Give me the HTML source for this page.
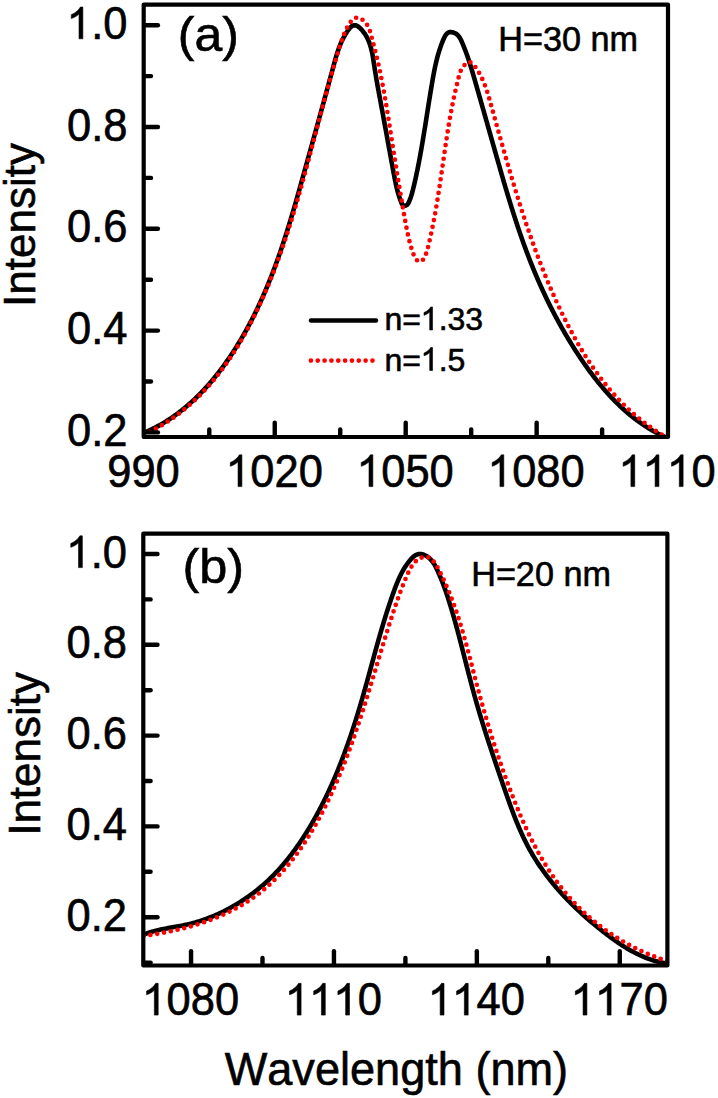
<!DOCTYPE html>
<html><head><meta charset="utf-8"><title>Intensity spectra</title>
<style>html,body{margin:0;padding:0;background:#fff;}body{width:718px;height:1098px;overflow:hidden;}svg{display:block;}</style>
</head><body>
<svg width="718" height="1098" viewBox="0 0 718 1098" font-family='"Liberation Sans", sans-serif' fill="#000">
<style>text,path.g1{stroke:#000;stroke-width:0.6px;}</style>
<defs>
<clipPath id="ca"><rect x="143.7" y="4.6" width="524.3" height="432.4"/></clipPath>
<clipPath id="cb"><rect x="143.3" y="533.7" width="524.0999999999999" height="431.79999999999995"/></clipPath>
</defs>
<rect width="718" height="1098" fill="#fff"/>
<g clip-path="url(#ca)">
<path d="M143.89,432.84 L145.29,432.24 L146.68,431.64 L148.06,431.02 L149.44,430.39 L150.80,429.74 L152.16,429.09 L153.51,428.42 L154.85,427.74 L156.18,427.04 L157.51,426.34 L158.83,425.62 L160.13,424.89 L161.44,424.15 L162.73,423.39 L164.01,422.63 L165.29,421.85 L166.56,421.06 L167.82,420.26 L169.07,419.45 L170.32,418.63 L171.55,417.80 L172.78,416.96 L174.00,416.10 L175.22,415.24 L176.43,414.37 L177.62,413.48 L178.81,412.59 L180.00,411.68 L181.17,410.77 L182.34,409.84 L183.50,408.91 L184.66,407.97 L185.80,407.01 L186.94,406.05 L188.07,405.08 L189.20,404.10 L190.31,403.11 L191.42,402.12 L192.52,401.11 L193.62,400.10 L194.71,399.07 L195.79,398.04 L196.86,397.00 L197.93,395.96 L198.99,394.90 L200.04,393.84 L201.08,392.77 L202.12,391.69 L203.15,390.60 L204.18,389.51 L205.19,388.41 L206.21,387.30 L207.21,386.19 L208.21,385.07 L209.20,383.94 L210.18,382.81 L211.16,381.67 L212.13,380.52 L213.09,379.37 L214.05,378.21 L215.00,377.04 L215.94,375.87 L216.88,374.69 L217.81,373.51 L218.74,372.33 L219.65,371.13 L220.57,369.93 L221.47,368.73 L222.37,367.52 L223.26,366.31 L224.15,365.09 L225.03,363.87 L225.91,362.64 L226.77,361.41 L227.64,360.18 L228.49,358.94 L229.34,357.69 L230.19,356.45 L231.02,355.19 L231.86,353.94 L232.68,352.68 L233.50,351.42 L234.32,350.16 L235.12,348.89 L235.93,347.62 L236.72,346.34 L237.51,345.07 L238.30,343.79 L239.08,342.50 L239.85,341.22 L240.62,339.93 L241.39,338.64 L242.14,337.34 L242.89,336.05 L243.64,334.75 L244.38,333.45 L245.12,332.14 L245.85,330.83 L246.57,329.53 L247.29,328.21 L248.01,326.90 L248.72,325.58 L249.42,324.26 L250.12,322.94 L250.82,321.61 L251.51,320.29 L252.19,318.96 L252.87,317.62 L253.55,316.29 L254.22,314.95 L254.88,313.61 L255.54,312.27 L256.20,310.93 L256.85,309.58 L257.49,308.23 L258.13,306.88 L258.77,305.53 L259.40,304.18 L260.03,302.82 L260.66,301.46 L261.27,300.10 L261.89,298.74 L262.50,297.37 L263.11,296.00 L263.71,294.64 L264.30,293.26 L264.90,291.89 L265.49,290.52 L266.07,289.14 L266.65,287.76 L267.23,286.38 L267.80,285.00 L268.37,283.62 L268.94,282.23 L269.50,280.84 L270.06,279.45 L270.61,278.06 L271.16,276.67 L271.71,275.28 L272.25,273.88 L272.79,272.48 L273.32,271.08 L273.85,269.68 L274.38,268.28 L274.91,266.88 L275.43,265.47 L275.94,264.07 L276.46,262.66 L276.97,261.25 L277.48,259.84 L277.98,258.43 L278.48,257.02 L278.98,255.60 L279.48,254.19 L279.97,252.77 L280.46,251.35 L280.94,249.93 L281.43,248.51 L281.91,247.09 L282.38,245.67 L282.86,244.24 L283.33,242.82 L283.80,241.39 L284.27,239.97 L284.73,238.54 L285.19,237.11 L285.65,235.68 L286.11,234.25 L286.56,232.82 L287.02,231.39 L287.47,229.96 L287.91,228.52 L288.36,227.09 L288.80,225.65 L289.24,224.22 L289.68,222.78 L290.12,221.35 L290.56,219.91 L290.99,218.47 L291.42,217.03 L291.85,215.59 L292.28,214.16 L292.71,212.72 L293.13,211.28 L293.56,209.84 L293.98,208.39 L294.40,206.95 L294.82,205.51 L295.24,204.07 L295.66,202.63 L296.07,201.19 L296.49,199.74 L296.90,198.30 L297.31,196.86 L297.72,195.42 L298.13,193.97 L298.54,192.53 L298.95,191.09 L299.36,189.65 L299.76,188.20 L300.17,186.76 L300.57,185.32 L300.98,183.88 L301.38,182.43 L301.78,180.99 L302.19,179.55 L302.59,178.11 L302.99,176.67 L303.39,175.23 L303.79,173.78 L304.19,172.34 L304.59,170.90 L305.00,169.46 L305.40,168.03 L305.80,166.59 L306.20,165.15 L306.60,163.71 L307.00,162.27 L307.40,160.84 L307.80,159.40 L308.19,157.96 L308.59,156.52 L308.99,155.09 L309.39,153.65 L309.79,152.21 L310.19,150.78 L310.59,149.34 L310.99,147.90 L311.39,146.46 L311.79,145.03 L312.19,143.59 L312.59,142.15 L312.99,140.71 L313.39,139.27 L313.79,137.83 L314.19,136.39 L314.59,134.95 L314.99,133.51 L315.39,132.07 L315.79,130.63 L316.19,129.19 L316.59,127.74 L316.99,126.30 L317.39,124.85 L317.79,123.41 L318.19,121.96 L318.59,120.51 L318.99,119.06 L319.39,117.61 L319.79,116.16 L320.19,114.71 L320.59,113.26 L320.99,111.80 L321.39,110.34 L321.79,108.89 L322.19,107.43 L322.60,105.97 L323.00,104.51 L323.40,103.05 L323.80,101.59 L324.20,100.13 L324.60,98.66 L325.00,97.20 L325.40,95.74 L325.80,94.28 L326.20,92.82 L326.60,91.36 L327.00,89.90 L327.40,88.44 L327.80,86.98 L328.20,85.53 L328.59,84.07 L328.99,82.62 L329.38,81.17 L329.78,79.72 L330.17,78.27 L330.57,76.83 L330.96,75.39 L331.35,73.95 L331.74,72.51 L332.13,71.08 L332.52,69.65 L332.90,68.22 L333.29,66.80 L333.67,65.38 L334.06,63.96 L334.44,62.55 L334.83,61.14 L335.22,59.74 L335.62,58.33 L336.02,56.93 L336.44,55.53 L336.87,54.14 L337.31,52.74 L337.77,51.35 L338.25,49.96 L338.75,48.57 L339.26,47.18 L339.81,45.79 L340.38,44.40 L340.97,43.01 L341.60,41.62 L342.26,40.23 L342.95,38.84 L343.68,37.45 L344.44,36.06 L345.24,34.66 L346.09,33.26 L346.98,31.87 L347.91,30.48 L348.88,29.16 L349.90,27.95 L350.95,26.90 L352.04,26.06 L353.17,25.46 L354.33,25.18 L355.53,25.24 L356.75,25.66 L357.97,26.38 L359.18,27.32 L360.36,28.42 L361.48,29.60 L362.53,30.82 L363.52,32.05 L364.44,33.31 L365.29,34.60 L366.09,35.90 L366.84,37.23 L367.53,38.57 L368.16,39.93 L368.75,41.31 L369.30,42.71 L369.81,44.12 L370.27,45.54 L370.70,46.98 L371.10,48.43 L371.47,49.89 L371.80,51.36 L372.12,52.83 L372.41,54.31 L372.69,55.80 L372.95,57.29 L373.19,58.79 L373.43,60.29 L373.65,61.79 L373.88,63.29 L374.10,64.79 L374.32,66.28 L374.55,67.77 L374.78,69.26 L375.02,70.75 L375.26,72.23 L375.50,73.71 L375.74,75.19 L375.99,76.67 L376.24,78.14 L376.49,79.62 L376.75,81.09 L377.01,82.56 L377.27,84.03 L377.53,85.49 L377.80,86.96 L378.06,88.42 L378.33,89.89 L378.60,91.35 L378.87,92.82 L379.14,94.28 L379.41,95.74 L379.69,97.21 L379.96,98.67 L380.24,100.14 L380.51,101.61 L380.79,103.07 L381.06,104.54 L381.34,106.01 L381.61,107.48 L381.89,108.96 L382.16,110.43 L382.43,111.91 L382.71,113.38 L382.98,114.86 L383.25,116.34 L383.53,117.82 L383.80,119.30 L384.07,120.78 L384.34,122.27 L384.62,123.75 L384.89,125.23 L385.16,126.72 L385.43,128.20 L385.70,129.69 L385.97,131.17 L386.24,132.66 L386.52,134.14 L386.79,135.62 L387.06,137.11 L387.33,138.59 L387.60,140.08 L387.87,141.56 L388.14,143.04 L388.41,144.53 L388.68,146.01 L388.95,147.49 L389.22,148.97 L389.49,150.45 L389.76,151.92 L390.03,153.40 L390.30,154.88 L390.57,156.35 L390.84,157.82 L391.11,159.30 L391.38,160.77 L391.65,162.23 L391.92,163.70 L392.20,165.16 L392.47,166.63 L392.74,168.09 L393.01,169.55 L393.28,171.00 L393.55,172.46 L393.82,173.91 L394.09,175.36 L394.37,176.81 L394.65,178.25 L394.93,179.70 L395.22,181.15 L395.53,182.60 L395.84,184.05 L396.16,185.50 L396.50,186.96 L396.85,188.42 L397.22,189.88 L397.61,191.35 L398.02,192.82 L398.45,194.30 L398.91,195.78 L399.39,197.28 L399.89,198.78 L400.43,200.29 L401.00,201.80 L401.62,203.23 L402.35,204.46 L403.21,205.36 L404.26,205.81 L405.51,205.69 L406.75,205.06 L407.77,204.03 L408.60,202.71 L409.28,201.23 L409.88,199.72 L410.43,198.22 L410.94,196.74 L411.41,195.27 L411.85,193.81 L412.26,192.36 L412.64,190.92 L413.01,189.48 L413.36,188.05 L413.71,186.61 L414.05,185.17 L414.39,183.73 L414.72,182.28 L415.05,180.84 L415.37,179.39 L415.69,177.94 L416.01,176.49 L416.32,175.03 L416.63,173.58 L416.93,172.12 L417.24,170.66 L417.54,169.20 L417.83,167.73 L418.12,166.27 L418.41,164.80 L418.70,163.33 L418.98,161.86 L419.26,160.39 L419.54,158.92 L419.82,157.44 L420.09,155.97 L420.36,154.49 L420.62,153.01 L420.89,151.53 L421.15,150.05 L421.41,148.57 L421.67,147.09 L421.93,145.60 L422.18,144.12 L422.44,142.64 L422.69,141.15 L422.94,139.66 L423.18,138.18 L423.43,136.69 L423.67,135.20 L423.92,133.72 L424.16,132.23 L424.40,130.74 L424.64,129.25 L424.88,127.76 L425.12,126.27 L425.36,124.78 L425.59,123.29 L425.83,121.81 L426.07,120.32 L426.30,118.83 L426.54,117.34 L426.77,115.85 L427.00,114.36 L427.24,112.88 L427.47,111.39 L427.71,109.90 L427.94,108.42 L428.18,106.93 L428.41,105.45 L428.64,103.97 L428.88,102.48 L429.12,101.00 L429.35,99.52 L429.59,98.04 L429.83,96.56 L430.07,95.09 L430.31,93.61 L430.55,92.13 L430.79,90.66 L431.04,89.19 L431.28,87.72 L431.53,86.25 L431.78,84.78 L432.03,83.31 L432.28,81.85 L432.53,80.39 L432.78,78.93 L433.04,77.47 L433.30,76.01 L433.57,74.55 L433.84,73.10 L434.12,71.64 L434.40,70.19 L434.70,68.73 L435.00,67.28 L435.30,65.83 L435.62,64.38 L435.95,62.93 L436.29,61.48 L436.65,60.03 L437.02,58.58 L437.40,57.13 L437.79,55.68 L438.20,54.23 L438.63,52.78 L439.07,51.32 L439.53,49.87 L440.01,48.42 L440.51,46.96 L441.03,45.51 L441.57,44.05 L442.13,42.59 L442.71,41.13 L443.32,39.67 L443.96,38.21 L444.64,36.81 L445.39,35.50 L446.22,34.34 L447.17,33.36 L448.24,32.62 L449.45,32.15 L450.84,32.01 L452.38,32.22 L453.95,32.70 L455.43,33.41 L456.73,34.28 L457.85,35.28 L458.83,36.40 L459.69,37.62 L460.45,38.92 L461.13,40.27 L461.75,41.65 L462.35,43.05 L462.93,44.44 L463.50,45.84 L464.06,47.23 L464.60,48.62 L465.14,50.01 L465.67,51.40 L466.19,52.80 L466.70,54.20 L467.19,55.60 L467.68,57.01 L468.17,58.42 L468.64,59.83 L469.11,61.25 L469.57,62.68 L470.02,64.10 L470.47,65.53 L470.91,66.97 L471.35,68.40 L471.78,69.84 L472.21,71.28 L472.64,72.72 L473.06,74.16 L473.48,75.60 L473.90,77.05 L474.32,78.49 L474.73,79.94 L475.15,81.38 L475.57,82.82 L475.98,84.27 L476.40,85.71 L476.81,87.15 L477.23,88.59 L477.64,90.04 L478.05,91.48 L478.47,92.92 L478.88,94.36 L479.29,95.81 L479.71,97.25 L480.12,98.69 L480.53,100.13 L480.94,101.57 L481.35,103.01 L481.76,104.45 L482.17,105.90 L482.59,107.34 L483.00,108.78 L483.41,110.22 L483.82,111.66 L484.23,113.10 L484.64,114.54 L485.04,115.98 L485.45,117.42 L485.86,118.86 L486.27,120.30 L486.68,121.74 L487.09,123.18 L487.50,124.62 L487.91,126.06 L488.32,127.51 L488.73,128.95 L489.13,130.39 L489.54,131.83 L489.95,133.27 L490.36,134.71 L490.77,136.15 L491.18,137.59 L491.59,139.03 L492.00,140.47 L492.40,141.91 L492.81,143.35 L493.22,144.79 L493.63,146.23 L494.04,147.67 L494.45,149.12 L494.86,150.56 L495.27,152.00 L495.68,153.44 L496.09,154.88 L496.50,156.32 L496.91,157.76 L497.32,159.21 L497.73,160.65 L498.15,162.09 L498.56,163.53 L498.97,164.97 L499.38,166.42 L499.80,167.86 L500.21,169.30 L500.63,170.74 L501.04,172.18 L501.46,173.62 L501.88,175.07 L502.29,176.51 L502.71,177.95 L503.13,179.39 L503.55,180.83 L503.97,182.27 L504.40,183.71 L504.82,185.15 L505.25,186.59 L505.67,188.03 L506.10,189.47 L506.53,190.91 L506.96,192.34 L507.39,193.78 L507.82,195.22 L508.25,196.66 L508.69,198.09 L509.13,199.53 L509.57,200.96 L510.01,202.40 L510.45,203.83 L510.89,205.27 L511.34,206.70 L511.78,208.13 L512.23,209.56 L512.68,210.99 L513.14,212.42 L513.59,213.85 L514.05,215.28 L514.51,216.71 L514.97,218.14 L515.43,219.56 L515.89,220.99 L516.36,222.42 L516.83,223.84 L517.30,225.26 L517.78,226.69 L518.25,228.11 L518.73,229.53 L519.22,230.95 L519.70,232.37 L520.19,233.78 L520.68,235.20 L521.17,236.62 L521.66,238.03 L522.16,239.44 L522.66,240.86 L523.16,242.27 L523.67,243.68 L524.18,245.09 L524.69,246.49 L525.21,247.90 L525.72,249.30 L526.25,250.71 L526.77,252.11 L527.30,253.51 L527.83,254.91 L528.36,256.31 L528.90,257.71 L529.44,259.11 L529.99,260.50 L530.53,261.89 L531.09,263.29 L531.64,264.68 L532.20,266.06 L532.76,267.45 L533.33,268.84 L533.90,270.22 L534.47,271.61 L535.05,272.99 L535.63,274.37 L536.21,275.74 L536.80,277.12 L537.39,278.50 L537.99,279.87 L538.59,281.24 L539.19,282.61 L539.80,283.98 L540.41,285.35 L541.02,286.71 L541.64,288.07 L542.26,289.44 L542.89,290.80 L543.52,292.15 L544.15,293.51 L544.79,294.86 L545.43,296.22 L546.07,297.57 L546.72,298.92 L547.37,300.26 L548.03,301.61 L548.69,302.95 L549.36,304.29 L550.02,305.63 L550.70,306.97 L551.37,308.31 L552.05,309.64 L552.74,310.97 L553.42,312.30 L554.12,313.63 L554.81,314.96 L555.51,316.28 L556.22,317.60 L556.93,318.92 L557.64,320.24 L558.35,321.56 L559.07,322.87 L559.80,324.18 L560.53,325.49 L561.26,326.80 L562.00,328.10 L562.74,329.40 L563.48,330.71 L564.23,332.00 L564.98,333.30 L565.74,334.59 L566.50,335.89 L567.27,337.18 L568.04,338.46 L568.81,339.75 L569.59,341.03 L570.37,342.31 L571.16,343.59 L571.95,344.87 L572.74,346.14 L573.54,347.41 L574.34,348.68 L575.15,349.95 L575.96,351.21 L576.78,352.47 L577.60,353.73 L578.42,354.99 L579.25,356.24 L580.09,357.49 L580.92,358.74 L581.77,359.99 L582.61,361.23 L583.47,362.47 L584.32,363.70 L585.18,364.94 L586.05,366.17 L586.92,367.39 L587.80,368.61 L588.68,369.83 L589.56,371.05 L590.46,372.25 L591.35,373.46 L592.25,374.66 L593.16,375.86 L594.07,377.05 L594.99,378.24 L595.92,379.42 L596.85,380.59 L597.78,381.77 L598.72,382.93 L599.67,384.09 L600.62,385.25 L601.58,386.40 L602.55,387.54 L603.52,388.68 L604.50,389.81 L605.48,390.94 L606.47,392.06 L607.47,393.17 L608.47,394.28 L609.48,395.38 L610.50,396.47 L611.52,397.56 L612.55,398.64 L613.58,399.71 L614.63,400.78 L615.68,401.84 L616.73,402.89 L617.80,403.93 L618.87,404.96 L619.95,405.99 L621.03,407.01 L622.13,408.02 L623.23,409.02 L624.34,410.02 L625.45,411.00 L626.57,411.98 L627.70,412.95 L628.84,413.91 L629.99,414.86 L631.14,415.80 L632.30,416.73 L633.47,417.65 L634.65,418.57 L635.84,419.47 L637.03,420.36 L638.24,421.25 L639.45,422.12 L640.67,422.99 L641.89,423.84 L643.13,424.68 L644.37,425.51 L645.63,426.34 L646.89,427.15 L648.16,427.95 L649.44,428.74 L650.73,429.52 L652.03,430.28 L653.34,431.04 L654.65,431.78 L655.98,432.52 L657.31,433.24 L658.65,433.95 L660.01,434.64 L661.37,435.33 L662.74,436.00 L664.12,436.66 L665.51,437.31 L666.92,437.94 L668.33,438.57 L669.75,439.18 L671.18,439.77" fill="none" stroke="#000" stroke-width="4.6" stroke-linejoin="round"/>
<path d="M143.49,434.76 L144.91,434.11 L146.33,433.45 L147.73,432.78 L149.12,432.10 L150.51,431.40 L151.88,430.70 L153.25,429.99 L154.61,429.27 L155.96,428.53 L157.30,427.79 L158.63,427.04 L159.95,426.28 L161.27,425.50 L162.57,424.72 L163.87,423.93 L165.16,423.13 L166.44,422.32 L167.71,421.50 L168.97,420.67 L170.23,419.83 L171.48,418.98 L172.71,418.13 L173.94,417.26 L175.17,416.39 L176.38,415.50 L177.58,414.61 L178.78,413.71 L179.97,412.80 L181.15,411.89 L182.32,410.96 L183.49,410.03 L184.65,409.08 L185.80,408.13 L186.94,407.17 L188.07,406.21 L189.20,405.23 L190.32,404.25 L191.43,403.26 L192.53,402.26 L193.63,401.25 L194.72,400.24 L195.80,399.22 L196.87,398.19 L197.94,397.16 L199.00,396.11 L200.05,395.06 L201.09,394.01 L202.13,392.94 L203.16,391.87 L204.18,390.79 L205.20,389.71 L206.21,388.61 L207.21,387.52 L208.20,386.41 L209.19,385.30 L210.17,384.18 L211.14,383.06 L212.11,381.93 L213.07,380.79 L214.03,379.65 L214.97,378.50 L215.91,377.35 L216.85,376.18 L217.77,375.02 L218.69,373.85 L219.61,372.67 L220.52,371.49 L221.42,370.30 L222.31,369.10 L223.20,367.90 L224.08,366.70 L224.96,365.49 L225.83,364.27 L226.70,363.05 L227.55,361.83 L228.41,360.60 L229.25,359.36 L230.09,358.12 L230.93,356.88 L231.75,355.63 L232.58,354.38 L233.39,353.12 L234.20,351.86 L235.01,350.59 L235.81,349.32 L236.60,348.05 L237.39,346.77 L238.17,345.49 L238.95,344.20 L239.72,342.91 L240.49,341.62 L241.25,340.32 L242.00,339.02 L242.75,337.71 L243.50,336.41 L244.24,335.10 L244.97,333.78 L245.70,332.46 L246.43,331.14 L247.15,329.82 L247.86,328.49 L248.57,327.16 L249.28,325.83 L249.97,324.50 L250.67,323.16 L251.36,321.82 L252.04,320.47 L252.73,319.13 L253.40,317.78 L254.07,316.43 L254.74,315.08 L255.40,313.73 L256.06,312.37 L256.71,311.01 L257.36,309.65 L258.01,308.29 L258.65,306.93 L259.28,305.56 L259.91,304.20 L260.54,302.83 L261.16,301.46 L261.78,300.09 L262.40,298.72 L263.01,297.34 L263.62,295.97 L264.22,294.59 L264.82,293.22 L265.41,291.84 L266.00,290.46 L266.59,289.08 L267.17,287.70 L267.75,286.31 L268.33,284.93 L268.90,283.54 L269.47,282.16 L270.04,280.77 L270.60,279.38 L271.16,277.99 L271.71,276.60 L272.26,275.21 L272.81,273.81 L273.35,272.42 L273.89,271.02 L274.43,269.62 L274.96,268.23 L275.50,266.83 L276.02,265.43 L276.55,264.03 L277.07,262.62 L277.59,261.22 L278.10,259.82 L278.61,258.41 L279.12,257.01 L279.63,255.60 L280.13,254.19 L280.63,252.78 L281.13,251.37 L281.62,249.96 L282.12,248.55 L282.61,247.13 L283.09,245.72 L283.57,244.31 L284.06,242.89 L284.53,241.47 L285.01,240.06 L285.48,238.64 L285.95,237.22 L286.42,235.80 L286.89,234.38 L287.35,232.96 L287.81,231.53 L288.27,230.11 L288.73,228.68 L289.18,227.26 L289.63,225.83 L290.08,224.41 L290.53,222.98 L290.97,221.55 L291.42,220.12 L291.86,218.69 L292.30,217.26 L292.73,215.83 L293.17,214.40 L293.60,212.97 L294.03,211.53 L294.46,210.10 L294.89,208.66 L295.32,207.23 L295.74,205.79 L296.17,204.36 L296.59,202.92 L297.01,201.48 L297.42,200.04 L297.84,198.60 L298.25,197.16 L298.67,195.72 L299.08,194.28 L299.49,192.84 L299.90,191.40 L300.31,189.96 L300.71,188.51 L301.12,187.07 L301.52,185.63 L301.93,184.18 L302.33,182.74 L302.73,181.29 L303.13,179.84 L303.53,178.40 L303.92,176.95 L304.32,175.50 L304.71,174.05 L305.11,172.61 L305.50,171.16 L305.90,169.71 L306.29,168.26 L306.68,166.81 L307.07,165.36 L307.46,163.91 L307.85,162.45 L308.24,161.00 L308.63,159.55 L309.01,158.10 L309.40,156.65 L309.79,155.19 L310.17,153.74 L310.56,152.29 L310.94,150.83 L311.33,149.38 L311.71,147.92 L312.10,146.47 L312.48,145.01 L312.87,143.56 L313.25,142.10 L313.63,140.65 L314.02,139.19 L314.40,137.73 L314.78,136.28 L315.17,134.82 L315.55,133.36 L315.94,131.91 L316.32,130.45 L316.70,128.99 L317.09,127.54 L317.47,126.08 L317.86,124.62 L318.24,123.17 L318.62,121.71 L319.01,120.26 L319.39,118.80 L319.78,117.34 L320.17,115.89 L320.55,114.43 L320.94,112.98 L321.32,111.53 L321.71,110.07 L322.10,108.62 L322.49,107.17 L322.88,105.72 L323.26,104.27 L323.65,102.82 L324.04,101.37 L324.43,99.92 L324.82,98.47 L325.22,97.02 L325.61,95.58 L326.00,94.13 L326.39,92.69 L326.79,91.25 L327.18,89.80 L327.58,88.36 L327.97,86.92 L328.37,85.49 L328.77,84.05 L329.17,82.61 L329.56,81.18 L329.96,79.74 L330.36,78.31 L330.77,76.88 L331.17,75.45 L331.57,74.03 L331.98,72.60 L332.38,71.17 L332.79,69.75 L333.20,68.33 L333.60,66.91 L334.01,65.49 L334.42,64.08 L334.83,62.66 L335.25,61.25 L335.66,59.84 L336.08,58.43 L336.49,57.02 L336.91,55.62 L337.33,54.22 L337.75,52.82 L338.17,51.42 L338.59,50.02 L339.02,48.62 L339.46,47.22 L339.90,45.82 L340.36,44.41 L340.83,42.99 L341.32,41.57 L341.83,40.13 L342.36,38.68 L342.91,37.21 L343.49,35.73 L344.11,34.23 L344.75,32.71 L345.43,31.17 L346.14,29.62 L346.89,28.07 L347.68,26.55 L348.50,25.09 L349.36,23.69 L350.25,22.39 L351.18,21.20 L352.15,20.14 L353.16,19.24 L354.20,18.51 L355.29,17.98 L356.41,17.67 L357.56,17.59 L358.76,17.77 L359.98,18.21 L361.21,18.86 L362.43,19.70 L363.62,20.71 L364.77,21.86 L365.85,23.12 L366.84,24.45 L367.73,25.84 L368.50,27.25 L369.13,28.65 L369.65,30.06 L370.09,31.46 L370.48,32.87 L370.86,34.28 L371.23,35.70 L371.61,37.12 L371.99,38.56 L372.38,40.00 L372.76,41.44 L373.14,42.89 L373.53,44.35 L373.91,45.81 L374.29,47.27 L374.67,48.73 L375.04,50.20 L375.41,51.66 L375.78,53.13 L376.14,54.60 L376.50,56.06 L376.85,57.53 L377.20,59.00 L377.54,60.46 L377.88,61.93 L378.21,63.40 L378.54,64.86 L378.87,66.33 L379.19,67.79 L379.51,69.26 L379.82,70.73 L380.13,72.19 L380.44,73.66 L380.74,75.12 L381.04,76.59 L381.33,78.05 L381.62,79.52 L381.91,80.99 L382.20,82.45 L382.48,83.92 L382.76,85.38 L383.03,86.85 L383.31,88.32 L383.58,89.79 L383.85,91.25 L384.11,92.72 L384.37,94.19 L384.63,95.66 L384.89,97.13 L385.15,98.59 L385.40,100.06 L385.65,101.53 L385.90,103.00 L386.15,104.47 L386.40,105.95 L386.64,107.42 L386.88,108.89 L387.13,110.36 L387.37,111.84 L387.60,113.31 L387.84,114.78 L388.08,116.26 L388.31,117.74 L388.55,119.21 L388.78,120.69 L389.01,122.17 L389.25,123.65 L389.48,125.12 L389.71,126.60 L389.94,128.09 L390.17,129.57 L390.40,131.05 L390.63,132.53 L390.86,134.02 L391.09,135.50 L391.32,136.99 L391.55,138.48 L391.78,139.96 L392.02,141.45 L392.25,142.94 L392.48,144.43 L392.71,145.92 L392.95,147.42 L393.18,148.91 L393.42,150.40 L393.65,151.90 L393.89,153.39 L394.12,154.89 L394.36,156.38 L394.60,157.88 L394.84,159.37 L395.08,160.87 L395.31,162.36 L395.55,163.86 L395.79,165.35 L396.03,166.85 L396.27,168.34 L396.52,169.83 L396.76,171.33 L397.00,172.82 L397.24,174.31 L397.49,175.80 L397.73,177.29 L397.97,178.78 L398.22,180.26 L398.47,181.75 L398.71,183.23 L398.96,184.72 L399.20,186.20 L399.45,187.68 L399.70,189.16 L399.95,190.64 L400.20,192.11 L400.45,193.58 L400.70,195.06 L400.95,196.52 L401.20,197.99 L401.45,199.46 L401.70,200.92 L401.95,202.38 L402.20,203.84 L402.46,205.29 L402.71,206.75 L402.96,208.20 L403.22,209.64 L403.47,211.09 L403.73,212.53 L403.98,213.97 L404.24,215.40 L404.50,216.83 L404.75,218.26 L405.01,219.69 L405.27,221.11 L405.53,222.53 L405.79,223.94 L406.05,225.36 L406.31,226.77 L406.58,228.19 L406.86,229.61 L407.15,231.04 L407.44,232.47 L407.75,233.92 L408.07,235.37 L408.40,236.84 L408.75,238.32 L409.11,239.81 L409.50,241.33 L409.90,242.86 L410.32,244.42 L410.77,246.00 L411.24,247.60 L411.74,249.23 L412.26,250.88 L412.82,252.52 L413.41,254.13 L414.05,255.66 L414.74,257.09 L415.48,258.38 L416.29,259.50 L417.17,260.41 L418.11,261.08 L419.14,261.48 L420.19,261.56 L421.22,261.26 L422.18,260.59 L423.08,259.63 L423.91,258.43 L424.68,257.04 L425.38,255.52 L426.01,253.94 L426.58,252.34 L427.07,250.79 L427.50,249.29 L427.88,247.83 L428.24,246.38 L428.59,244.95 L428.93,243.51 L429.26,242.06 L429.60,240.61 L429.93,239.16 L430.25,237.71 L430.58,236.26 L430.89,234.80 L431.21,233.34 L431.52,231.88 L431.83,230.42 L432.14,228.96 L432.44,227.49 L432.74,226.02 L433.03,224.56 L433.32,223.09 L433.60,221.62 L433.89,220.15 L434.17,218.68 L434.44,217.21 L434.71,215.74 L434.98,214.27 L435.25,212.79 L435.51,211.32 L435.77,209.85 L436.03,208.37 L436.28,206.90 L436.54,205.42 L436.78,203.94 L437.03,202.47 L437.28,200.99 L437.52,199.51 L437.76,198.03 L437.99,196.55 L438.23,195.07 L438.46,193.59 L438.69,192.11 L438.92,190.63 L439.15,189.15 L439.38,187.67 L439.61,186.18 L439.83,184.70 L440.05,183.22 L440.27,181.74 L440.49,180.25 L440.71,178.77 L440.93,177.28 L441.15,175.80 L441.36,174.32 L441.58,172.83 L441.80,171.35 L442.01,169.86 L442.23,168.38 L442.44,166.89 L442.65,165.40 L442.87,163.92 L443.08,162.43 L443.30,160.95 L443.51,159.46 L443.73,157.98 L443.94,156.49 L444.16,155.01 L444.37,153.52 L444.59,152.03 L444.81,150.55 L445.02,149.06 L445.24,147.58 L445.46,146.09 L445.68,144.61 L445.91,143.12 L446.13,141.64 L446.35,140.15 L446.58,138.67 L446.81,137.18 L447.04,135.70 L447.27,134.22 L447.50,132.73 L447.74,131.25 L447.98,129.77 L448.21,128.29 L448.46,126.80 L448.70,125.32 L448.95,123.84 L449.20,122.36 L449.45,120.88 L449.70,119.41 L449.96,117.93 L450.22,116.45 L450.49,114.98 L450.76,113.50 L451.03,112.03 L451.30,110.55 L451.58,109.08 L451.86,107.61 L452.15,106.14 L452.44,104.67 L452.74,103.20 L453.03,101.74 L453.34,100.27 L453.64,98.81 L453.96,97.35 L454.27,95.88 L454.60,94.43 L454.92,92.97 L455.25,91.51 L455.59,90.06 L455.93,88.60 L456.28,87.15 L456.62,85.71 L456.97,84.27 L457.31,82.84 L457.66,81.41 L458.00,79.99 L458.34,78.58 L458.68,77.18 L459.02,75.79 L459.40,74.39 L459.85,72.97 L460.42,71.52 L461.12,70.02 L461.97,68.50 L462.94,67.03 L464.00,65.65 L465.13,64.43 L466.31,63.41 L467.51,62.65 L468.71,62.22 L469.88,62.17 L471.02,62.52 L472.10,63.23 L473.15,64.20 L474.14,65.36 L475.10,66.63 L476.02,67.93 L476.90,69.24 L477.75,70.55 L478.55,71.88 L479.33,73.21 L480.07,74.55 L480.78,75.90 L481.47,77.26 L482.12,78.63 L482.75,80.00 L483.35,81.38 L483.93,82.76 L484.49,84.15 L485.03,85.55 L485.55,86.95 L486.05,88.35 L486.53,89.76 L487.00,91.18 L487.46,92.60 L487.90,94.02 L488.34,95.45 L488.76,96.87 L489.18,98.30 L489.59,99.74 L490.00,101.17 L490.40,102.61 L490.80,104.05 L491.20,105.49 L491.60,106.93 L492.01,108.37 L492.41,109.81 L492.81,111.25 L493.21,112.70 L493.61,114.14 L494.01,115.58 L494.42,117.03 L494.82,118.48 L495.22,119.92 L495.63,121.37 L496.03,122.81 L496.43,124.26 L496.84,125.71 L497.24,127.16 L497.64,128.60 L498.05,130.05 L498.45,131.50 L498.86,132.95 L499.26,134.40 L499.67,135.85 L500.08,137.29 L500.48,138.74 L500.89,140.19 L501.30,141.64 L501.71,143.08 L502.12,144.53 L502.53,145.98 L502.94,147.43 L503.35,148.87 L503.76,150.32 L504.17,151.76 L504.58,153.21 L504.99,154.65 L505.41,156.10 L505.82,157.54 L506.23,158.98 L506.65,160.43 L507.07,161.87 L507.48,163.31 L507.90,164.75 L508.32,166.20 L508.74,167.64 L509.16,169.08 L509.58,170.52 L510.00,171.96 L510.43,173.40 L510.85,174.84 L511.28,176.28 L511.70,177.71 L512.13,179.15 L512.56,180.59 L512.99,182.02 L513.42,183.46 L513.85,184.90 L514.29,186.33 L514.72,187.76 L515.16,189.20 L515.59,190.63 L516.03,192.06 L516.47,193.50 L516.91,194.93 L517.36,196.36 L517.80,197.79 L518.25,199.22 L518.69,200.65 L519.14,202.08 L519.59,203.51 L520.04,204.93 L520.50,206.36 L520.95,207.79 L521.41,209.21 L521.87,210.64 L522.33,212.06 L522.79,213.49 L523.25,214.91 L523.72,216.33 L524.18,217.75 L524.65,219.17 L525.12,220.59 L525.59,222.01 L526.07,223.43 L526.54,224.85 L527.02,226.27 L527.50,227.68 L527.99,229.10 L528.47,230.51 L528.96,231.93 L529.44,233.34 L529.93,234.76 L530.43,236.17 L530.92,237.58 L531.42,238.99 L531.92,240.40 L532.42,241.81 L532.92,243.22 L533.43,244.62 L533.94,246.03 L534.45,247.44 L534.96,248.84 L535.48,250.25 L536.00,251.65 L536.52,253.05 L537.04,254.45 L537.56,255.85 L538.09,257.25 L538.62,258.65 L539.16,260.05 L539.69,261.45 L540.23,262.84 L540.77,264.24 L541.31,265.63 L541.86,267.03 L542.41,268.42 L542.96,269.81 L543.52,271.20 L544.07,272.59 L544.63,273.98 L545.20,275.37 L545.76,276.75 L546.33,278.14 L546.91,279.52 L547.48,280.91 L548.06,282.29 L548.64,283.67 L549.22,285.05 L549.81,286.43 L550.40,287.81 L550.99,289.19 L551.59,290.56 L552.19,291.94 L552.79,293.31 L553.40,294.69 L554.01,296.06 L554.62,297.43 L555.24,298.80 L555.86,300.17 L556.48,301.54 L557.11,302.90 L557.74,304.27 L558.37,305.63 L559.01,307.00 L559.65,308.36 L560.29,309.72 L560.94,311.08 L561.59,312.44 L562.24,313.80 L562.90,315.15 L563.56,316.50 L564.23,317.86 L564.90,319.21 L565.57,320.55 L566.25,321.90 L566.93,323.25 L567.62,324.59 L568.31,325.93 L569.00,327.27 L569.70,328.60 L570.41,329.94 L571.11,331.27 L571.82,332.60 L572.54,333.92 L573.26,335.25 L573.98,336.57 L574.71,337.89 L575.45,339.20 L576.19,340.51 L576.93,341.82 L577.68,343.13 L578.43,344.43 L579.19,345.73 L579.95,347.03 L580.71,348.32 L581.49,349.61 L582.26,350.90 L583.05,352.19 L583.83,353.46 L584.62,354.74 L585.42,356.01 L586.22,357.28 L587.03,358.55 L587.84,359.81 L588.66,361.06 L589.49,362.32 L590.32,363.56 L591.15,364.81 L591.99,366.05 L592.84,367.28 L593.69,368.51 L594.55,369.74 L595.41,370.96 L596.28,372.18 L597.15,373.39 L598.03,374.60 L598.92,375.80 L599.81,377.00 L600.71,378.19 L601.61,379.38 L602.52,380.56 L603.44,381.74 L604.36,382.91 L605.29,384.08 L606.22,385.24 L607.16,386.39 L608.11,387.54 L609.07,388.68 L610.03,389.82 L610.99,390.96 L611.97,392.08 L612.95,393.20 L613.93,394.32 L614.93,395.42 L615.93,396.53 L616.93,397.62 L617.95,398.71 L618.97,399.80 L620.00,400.87 L621.03,401.94 L622.07,403.01 L623.12,404.06 L624.18,405.11 L625.24,406.16 L626.31,407.19 L627.38,408.22 L628.47,409.24 L629.56,410.26 L630.66,411.27 L631.77,412.27 L632.88,413.26 L634.00,414.25 L635.13,415.22 L636.27,416.20 L637.41,417.16 L638.56,418.11 L639.72,419.06 L640.89,420.00 L642.06,420.93 L643.25,421.86 L644.44,422.77 L645.64,423.68 L646.84,424.58 L648.06,425.47 L649.28,426.36 L650.51,427.23 L651.75,428.10 L653.00,428.96 L654.25,429.80 L655.52,430.64 L656.79,431.48 L658.07,432.30 L659.36,433.11 L660.66,433.92 L661.97,434.71 L663.28,435.50 L664.60,436.28 L665.94,437.05 L667.28,437.80 L668.63,438.55 L669.99,439.29 L671.35,440.02" fill="none" stroke="#ff0000" stroke-width="4.7" stroke-linecap="round" stroke-dasharray="0 6.9"/>
</g>
<g clip-path="url(#cb)">
<path d="M143.51,934.77 L144.87,934.21 L146.24,933.67 L147.63,933.17 L149.02,932.69 L150.43,932.23 L151.85,931.80 L153.28,931.39 L154.72,931.00 L156.17,930.62 L157.63,930.27 L159.10,929.93 L160.57,929.60 L162.05,929.28 L163.53,928.98 L165.02,928.69 L166.51,928.40 L168.01,928.12 L169.51,927.85 L171.01,927.58 L172.51,927.31 L174.01,927.05 L175.51,926.78 L177.01,926.51 L178.50,926.24 L180.00,925.96 L181.49,925.68 L182.98,925.39 L184.46,925.09 L185.94,924.78 L187.41,924.46 L188.87,924.12 L190.33,923.77 L191.77,923.41 L193.22,923.03 L194.65,922.64 L196.08,922.24 L197.51,921.82 L198.92,921.39 L200.33,920.95 L201.74,920.49 L203.14,920.02 L204.53,919.54 L205.92,919.04 L207.30,918.53 L208.68,918.01 L210.05,917.47 L211.42,916.93 L212.78,916.37 L214.14,915.80 L215.49,915.21 L216.84,914.61 L218.18,914.00 L219.52,913.38 L220.86,912.75 L222.19,912.10 L223.52,911.45 L224.85,910.78 L226.17,910.10 L227.49,909.40 L228.80,908.70 L230.11,907.98 L231.42,907.25 L232.72,906.51 L234.02,905.76 L235.32,905.00 L236.61,904.23 L237.89,903.45 L239.17,902.65 L240.45,901.85 L241.72,901.03 L242.98,900.20 L244.24,899.37 L245.49,898.52 L246.74,897.66 L247.98,896.79 L249.21,895.92 L250.44,895.03 L251.66,894.13 L252.87,893.23 L254.08,892.31 L255.28,891.38 L256.47,890.45 L257.65,889.50 L258.83,888.55 L260.00,887.59 L261.16,886.62 L262.31,885.64 L263.45,884.65 L264.58,883.65 L265.71,882.64 L266.82,881.63 L267.93,880.61 L269.02,879.57 L270.11,878.53 L271.19,877.49 L272.26,876.43 L273.31,875.37 L274.36,874.30 L275.40,873.22 L276.43,872.14 L277.46,871.04 L278.47,869.94 L279.48,868.84 L280.47,867.72 L281.46,866.60 L282.44,865.47 L283.41,864.34 L284.37,863.20 L285.33,862.05 L286.28,860.90 L287.22,859.74 L288.15,858.58 L289.07,857.41 L289.99,856.23 L290.90,855.05 L291.80,853.86 L292.70,852.67 L293.59,851.48 L294.47,850.27 L295.34,849.07 L296.21,847.85 L297.07,846.64 L297.93,845.41 L298.78,844.19 L299.62,842.96 L300.45,841.72 L301.28,840.49 L302.11,839.24 L302.93,838.00 L303.74,836.75 L304.55,835.49 L305.35,834.24 L306.14,832.97 L306.93,831.71 L307.72,830.44 L308.50,829.17 L309.27,827.89 L310.04,826.61 L310.80,825.33 L311.56,824.05 L312.31,822.76 L313.06,821.46 L313.80,820.17 L314.53,818.87 L315.26,817.57 L315.99,816.26 L316.71,814.95 L317.42,813.64 L318.13,812.33 L318.84,811.01 L319.54,809.69 L320.23,808.37 L320.92,807.04 L321.61,805.71 L322.29,804.38 L322.97,803.04 L323.64,801.70 L324.30,800.36 L324.96,799.02 L325.62,797.68 L326.27,796.33 L326.92,794.98 L327.56,793.62 L328.20,792.27 L328.83,790.91 L329.46,789.55 L330.09,788.18 L330.71,786.82 L331.32,785.45 L331.94,784.08 L332.54,782.71 L333.15,781.33 L333.75,779.95 L334.34,778.58 L334.93,777.19 L335.52,775.81 L336.10,774.43 L336.68,773.04 L337.25,771.65 L337.82,770.26 L338.39,768.87 L338.95,767.47 L339.51,766.07 L340.07,764.68 L340.62,763.28 L341.17,761.87 L341.71,760.47 L342.25,759.07 L342.79,757.66 L343.32,756.25 L343.85,754.84 L344.37,753.43 L344.90,752.02 L345.41,750.60 L345.93,749.19 L346.44,747.77 L346.95,746.35 L347.46,744.93 L347.96,743.51 L348.46,742.09 L348.95,740.67 L349.45,739.25 L349.93,737.82 L350.42,736.40 L350.90,734.97 L351.38,733.54 L351.86,732.11 L352.33,730.68 L352.81,729.25 L353.27,727.82 L353.74,726.39 L354.20,724.96 L354.66,723.53 L355.12,722.09 L355.57,720.66 L356.03,719.22 L356.47,717.79 L356.92,716.35 L357.37,714.92 L357.81,713.48 L358.25,712.04 L358.68,710.60 L359.12,709.17 L359.55,707.73 L359.98,706.29 L360.40,704.85 L360.83,703.41 L361.25,701.97 L361.67,700.53 L362.09,699.10 L362.51,697.66 L362.92,696.22 L363.33,694.78 L363.74,693.34 L364.15,691.90 L364.56,690.46 L364.96,689.02 L365.37,687.58 L365.77,686.15 L366.17,684.71 L366.57,683.27 L366.97,681.83 L367.37,680.39 L367.76,678.95 L368.16,677.51 L368.55,676.07 L368.95,674.64 L369.34,673.20 L369.73,671.76 L370.13,670.32 L370.52,668.88 L370.91,667.44 L371.30,666.01 L371.70,664.57 L372.09,663.13 L372.48,661.69 L372.87,660.26 L373.27,658.82 L373.66,657.38 L374.06,655.94 L374.45,654.51 L374.85,653.07 L375.24,651.63 L375.64,650.19 L376.04,648.76 L376.44,647.32 L376.84,645.88 L377.24,644.45 L377.64,643.01 L378.05,641.58 L378.45,640.14 L378.86,638.70 L379.27,637.27 L379.68,635.83 L380.09,634.40 L380.51,632.96 L380.93,631.53 L381.35,630.09 L381.77,628.66 L382.19,627.23 L382.62,625.79 L383.05,624.36 L383.48,622.92 L383.91,621.49 L384.35,620.06 L384.79,618.62 L385.23,617.19 L385.68,615.76 L386.13,614.33 L386.58,612.89 L387.04,611.46 L387.50,610.03 L387.96,608.60 L388.43,607.17 L388.90,605.74 L389.38,604.31 L389.85,602.88 L390.34,601.44 L390.82,600.02 L391.31,598.59 L391.81,597.16 L392.31,595.73 L392.81,594.30 L393.32,592.87 L393.84,591.44 L394.36,590.01 L394.88,588.59 L395.42,587.17 L395.96,585.75 L396.52,584.34 L397.08,582.93 L397.66,581.53 L398.25,580.13 L398.86,578.74 L399.49,577.37 L400.13,576.00 L400.79,574.64 L401.48,573.30 L402.18,571.97 L402.91,570.65 L403.66,569.34 L404.43,568.05 L405.23,566.78 L406.06,565.52 L406.92,564.28 L407.80,563.06 L408.72,561.86 L409.67,560.68 L410.65,559.52 L411.67,558.39 L412.73,557.32 L413.85,556.34 L415.02,555.49 L416.26,554.81 L417.57,554.33 L418.93,554.05 L420.32,553.99 L421.73,554.14 L423.14,554.50 L424.54,555.03 L425.91,555.73 L427.25,556.56 L428.54,557.51 L429.76,558.56 L430.90,559.69 L431.95,560.88 L432.90,562.11 L433.76,563.37 L434.55,564.67 L435.28,565.99 L435.97,567.32 L436.62,568.67 L437.25,570.02 L437.88,571.38 L438.49,572.75 L439.09,574.11 L439.68,575.49 L440.26,576.86 L440.83,578.24 L441.39,579.62 L441.95,581.01 L442.49,582.39 L443.02,583.79 L443.55,585.18 L444.07,586.58 L444.58,587.98 L445.08,589.39 L445.58,590.79 L446.07,592.20 L446.55,593.61 L447.03,595.03 L447.50,596.45 L447.96,597.86 L448.42,599.29 L448.88,600.71 L449.33,602.13 L449.77,603.56 L450.21,604.99 L450.65,606.42 L451.08,607.85 L451.51,609.29 L451.93,610.72 L452.35,612.16 L452.77,613.59 L453.19,615.03 L453.60,616.47 L454.01,617.91 L454.42,619.36 L454.83,620.80 L455.23,622.24 L455.63,623.69 L456.03,625.13 L456.42,626.58 L456.82,628.03 L457.21,629.48 L457.60,630.92 L457.99,632.37 L458.37,633.82 L458.76,635.28 L459.14,636.73 L459.52,638.18 L459.90,639.63 L460.28,641.09 L460.66,642.54 L461.04,643.99 L461.41,645.45 L461.79,646.90 L462.16,648.36 L462.54,649.81 L462.91,651.27 L463.28,652.73 L463.66,654.18 L464.03,655.64 L464.40,657.10 L464.77,658.55 L465.14,660.01 L465.51,661.46 L465.89,662.92 L466.26,664.38 L466.63,665.83 L467.00,667.29 L467.37,668.74 L467.75,670.20 L468.12,671.65 L468.50,673.11 L468.87,674.56 L469.25,676.01 L469.63,677.47 L470.01,678.92 L470.39,680.37 L470.77,681.82 L471.15,683.27 L471.54,684.72 L471.92,686.17 L472.31,687.62 L472.70,689.07 L473.09,690.52 L473.49,691.96 L473.88,693.41 L474.28,694.85 L474.68,696.30 L475.08,697.74 L475.49,699.18 L475.90,700.62 L476.31,702.06 L476.72,703.50 L477.13,704.93 L477.55,706.37 L477.97,707.81 L478.39,709.24 L478.81,710.67 L479.24,712.11 L479.67,713.54 L480.10,714.97 L480.53,716.40 L480.96,717.83 L481.40,719.26 L481.84,720.68 L482.28,722.11 L482.72,723.54 L483.16,724.96 L483.61,726.39 L484.06,727.81 L484.51,729.24 L484.96,730.66 L485.41,732.09 L485.86,733.51 L486.32,734.93 L486.78,736.35 L487.24,737.77 L487.70,739.20 L488.16,740.62 L488.62,742.04 L489.09,743.46 L489.55,744.88 L490.02,746.30 L490.49,747.72 L490.96,749.14 L491.43,750.56 L491.90,751.97 L492.38,753.39 L492.85,754.81 L493.33,756.23 L493.80,757.65 L494.28,759.07 L494.76,760.49 L495.24,761.91 L495.72,763.33 L496.20,764.75 L496.69,766.16 L497.17,767.58 L497.65,769.00 L498.14,770.42 L498.62,771.84 L499.11,773.26 L499.60,774.68 L500.09,776.11 L500.57,777.53 L501.06,778.95 L501.55,780.37 L502.04,781.79 L502.53,783.22 L503.02,784.64 L503.51,786.06 L504.00,787.49 L504.50,788.91 L504.99,790.34 L505.48,791.76 L505.98,793.19 L506.47,794.61 L506.97,796.04 L507.47,797.46 L507.97,798.88 L508.48,800.31 L508.98,801.73 L509.49,803.15 L510.00,804.57 L510.52,805.99 L511.03,807.40 L511.56,808.82 L512.08,810.23 L512.61,811.64 L513.14,813.05 L513.68,814.46 L514.22,815.87 L514.77,817.27 L515.32,818.67 L515.88,820.07 L516.44,821.46 L517.01,822.86 L517.58,824.24 L518.16,825.63 L518.74,827.01 L519.33,828.39 L519.93,829.77 L520.54,831.14 L521.15,832.51 L521.77,833.87 L522.39,835.23 L523.03,836.59 L523.67,837.94 L524.32,839.29 L524.98,840.63 L525.64,841.96 L526.32,843.30 L527.00,844.62 L527.69,845.95 L528.39,847.26 L529.10,848.57 L529.82,849.88 L530.55,851.18 L531.29,852.47 L532.04,853.76 L532.80,855.05 L533.57,856.32 L534.34,857.60 L535.13,858.86 L535.92,860.12 L536.72,861.38 L537.53,862.63 L538.35,863.87 L539.18,865.11 L540.02,866.35 L540.86,867.57 L541.72,868.80 L542.58,870.01 L543.45,871.23 L544.32,872.43 L545.21,873.64 L546.10,874.83 L547.00,876.02 L547.91,877.21 L548.83,878.39 L549.75,879.56 L550.68,880.73 L551.62,881.90 L552.57,883.06 L553.52,884.21 L554.48,885.36 L555.44,886.50 L556.42,887.64 L557.40,888.77 L558.38,889.90 L559.38,891.02 L560.38,892.14 L561.38,893.25 L562.39,894.36 L563.41,895.46 L564.44,896.56 L565.47,897.65 L566.50,898.74 L567.55,899.82 L568.59,900.90 L569.65,901.97 L570.71,903.04 L571.77,904.10 L572.84,905.16 L573.92,906.21 L575.00,907.26 L576.09,908.30 L577.18,909.34 L578.27,910.37 L579.37,911.40 L580.48,912.42 L581.59,913.44 L582.71,914.45 L583.83,915.46 L584.95,916.46 L586.08,917.46 L587.21,918.45 L588.35,919.44 L589.49,920.43 L590.63,921.41 L591.78,922.38 L592.94,923.35 L594.09,924.32 L595.25,925.28 L596.42,926.23 L597.59,927.18 L598.76,928.13 L599.93,929.07 L601.11,930.01 L602.29,930.94 L603.47,931.87 L604.66,932.79 L605.85,933.71 L607.04,934.63 L608.24,935.53 L609.44,936.43 L610.64,937.33 L611.85,938.22 L613.06,939.10 L614.28,939.97 L615.50,940.83 L616.73,941.69 L617.96,942.54 L619.19,943.37 L620.43,944.20 L621.68,945.02 L622.93,945.82 L624.19,946.62 L625.46,947.40 L626.73,948.17 L628.01,948.93 L629.29,949.68 L630.58,950.41 L631.88,951.13 L633.19,951.84 L634.50,952.53 L635.82,953.21 L637.15,953.87 L638.48,954.52 L639.83,955.15 L641.18,955.77 L642.54,956.36 L643.91,956.94 L645.29,957.51 L646.67,958.05 L648.07,958.58 L649.48,959.09 L650.89,959.58 L652.32,960.05 L653.75,960.50 L655.20,960.93 L656.65,961.34 L658.12,961.72 L659.60,962.09 L661.08,962.43 L662.58,962.75 L664.09,963.05 L665.62,963.33 L667.15,963.58 L668.69,963.81 L670.25,964.01" fill="none" stroke="#000" stroke-width="4.6" stroke-linejoin="round"/>
<path d="M143.59,935.84 L145.03,935.65 L146.46,935.46 L147.90,935.26 L149.34,935.06 L150.79,934.84 L152.23,934.63 L153.68,934.40 L155.14,934.17 L156.59,933.93 L158.04,933.69 L159.50,933.43 L160.96,933.18 L162.42,932.91 L163.88,932.64 L165.34,932.36 L166.80,932.07 L168.27,931.78 L169.73,931.48 L171.19,931.17 L172.66,930.85 L174.12,930.53 L175.59,930.20 L177.05,929.86 L178.52,929.52 L179.98,929.17 L181.44,928.81 L182.91,928.44 L184.37,928.06 L185.83,927.68 L187.29,927.28 L188.74,926.88 L190.20,926.48 L191.65,926.06 L193.11,925.64 L194.56,925.20 L196.01,924.76 L197.45,924.31 L198.89,923.85 L200.34,923.39 L201.77,922.91 L203.21,922.43 L204.64,921.94 L206.07,921.44 L207.49,920.93 L208.92,920.41 L210.33,919.88 L211.75,919.34 L213.16,918.80 L214.57,918.24 L215.97,917.68 L217.37,917.11 L218.76,916.53 L220.15,915.93 L221.53,915.33 L222.91,914.72 L224.28,914.10 L225.65,913.47 L227.01,912.83 L228.37,912.18 L229.72,911.52 L231.06,910.85 L232.40,910.18 L233.73,909.49 L235.06,908.79 L236.38,908.08 L237.69,907.36 L238.99,906.63 L240.29,905.89 L241.58,905.14 L242.87,904.38 L244.14,903.61 L245.41,902.83 L246.67,902.04 L247.93,901.23 L249.17,900.42 L250.41,899.60 L251.64,898.76 L252.86,897.91 L254.07,897.06 L255.27,896.19 L256.46,895.31 L257.65,894.42 L258.82,893.52 L259.99,892.61 L261.15,891.69 L262.30,890.76 L263.45,889.82 L264.58,888.87 L265.71,887.91 L266.82,886.94 L267.93,885.96 L269.04,884.97 L270.13,883.97 L271.21,882.96 L272.29,881.95 L273.36,880.92 L274.42,879.89 L275.48,878.84 L276.52,877.79 L277.56,876.73 L278.59,875.66 L279.62,874.58 L280.63,873.50 L281.64,872.40 L282.64,871.30 L283.63,870.19 L284.62,869.08 L285.60,867.95 L286.57,866.82 L287.53,865.68 L288.49,864.53 L289.44,863.38 L290.38,862.22 L291.31,861.05 L292.24,859.88 L293.16,858.70 L294.08,857.51 L294.98,856.31 L295.89,855.11 L296.78,853.91 L297.67,852.69 L298.55,851.48 L299.42,850.25 L300.29,849.02 L301.15,847.79 L302.00,846.54 L302.85,845.30 L303.69,844.05 L304.53,842.79 L305.35,841.53 L306.18,840.26 L306.99,838.99 L307.80,837.71 L308.61,836.43 L309.40,835.15 L310.20,833.86 L310.98,832.56 L311.76,831.26 L312.54,829.96 L313.30,828.66 L314.07,827.35 L314.82,826.04 L315.57,824.72 L316.32,823.40 L317.06,822.08 L317.79,820.75 L318.52,819.42 L319.25,818.09 L319.96,816.75 L320.68,815.42 L321.38,814.08 L322.09,812.73 L322.78,811.39 L323.47,810.04 L324.16,808.69 L324.84,807.34 L325.52,805.99 L326.19,804.63 L326.86,803.28 L327.52,801.92 L328.18,800.56 L328.83,799.20 L329.48,797.84 L330.12,796.48 L330.76,795.11 L331.39,793.75 L332.02,792.38 L332.64,791.01 L333.27,789.64 L333.88,788.27 L334.49,786.90 L335.10,785.53 L335.70,784.16 L336.30,782.78 L336.90,781.41 L337.49,780.03 L338.08,778.65 L338.66,777.27 L339.24,775.89 L339.81,774.51 L340.38,773.13 L340.95,771.75 L341.52,770.36 L342.08,768.98 L342.63,767.59 L343.19,766.20 L343.74,764.81 L344.28,763.43 L344.82,762.03 L345.36,760.64 L345.90,759.25 L346.43,757.86 L346.96,756.46 L347.49,755.07 L348.01,753.67 L348.54,752.27 L349.05,750.88 L349.57,749.48 L350.08,748.08 L350.59,746.68 L351.10,745.28 L351.60,743.87 L352.10,742.47 L352.60,741.07 L353.09,739.66 L353.59,738.25 L354.08,736.85 L354.57,735.44 L355.05,734.03 L355.54,732.62 L356.02,731.21 L356.50,729.80 L356.97,728.39 L357.45,726.98 L357.92,725.56 L358.39,724.15 L358.86,722.74 L359.33,721.32 L359.80,719.91 L360.26,718.49 L360.72,717.07 L361.18,715.65 L361.64,714.23 L362.10,712.81 L362.55,711.39 L363.01,709.97 L363.46,708.55 L363.91,707.13 L364.36,705.71 L364.81,704.28 L365.26,702.86 L365.70,701.43 L366.15,700.01 L366.59,698.58 L367.04,697.16 L367.48,695.73 L367.92,694.30 L368.36,692.87 L368.80,691.45 L369.24,690.02 L369.68,688.59 L370.11,687.16 L370.55,685.73 L370.99,684.29 L371.42,682.86 L371.86,681.43 L372.29,680.00 L372.73,678.57 L373.16,677.13 L373.59,675.70 L374.03,674.26 L374.46,672.83 L374.90,671.39 L375.33,669.96 L375.76,668.52 L376.20,667.08 L376.63,665.65 L377.06,664.21 L377.50,662.77 L377.93,661.33 L378.37,659.90 L378.80,658.46 L379.24,657.02 L379.67,655.58 L380.11,654.14 L380.55,652.70 L380.99,651.26 L381.42,649.82 L381.86,648.38 L382.30,646.94 L382.74,645.50 L383.19,644.05 L383.63,642.61 L384.07,641.17 L384.52,639.73 L384.96,638.29 L385.41,636.84 L385.86,635.40 L386.31,633.96 L386.76,632.51 L387.21,631.07 L387.66,629.63 L388.12,628.18 L388.57,626.74 L389.03,625.30 L389.49,623.86 L389.95,622.42 L390.41,620.98 L390.87,619.55 L391.34,618.12 L391.80,616.68 L392.27,615.26 L392.74,613.83 L393.21,612.41 L393.68,610.99 L394.15,609.58 L394.63,608.16 L395.10,606.76 L395.58,605.36 L396.06,603.96 L396.54,602.56 L397.02,601.18 L397.51,599.80 L397.99,598.42 L398.48,597.05 L398.97,595.68 L399.46,594.31 L399.96,592.95 L400.47,591.58 L400.98,590.22 L401.50,588.85 L402.02,587.48 L402.56,586.11 L403.11,584.73 L403.66,583.35 L404.23,581.95 L404.81,580.55 L405.41,579.14 L406.01,577.72 L406.64,576.29 L407.28,574.85 L407.93,573.39 L408.61,571.93 L409.32,570.47 L410.06,569.02 L410.85,567.61 L411.68,566.23 L412.58,564.90 L413.54,563.63 L414.57,562.44 L415.68,561.32 L416.87,560.30 L418.12,559.38 L419.42,558.59 L420.74,557.92 L422.08,557.39 L423.40,557.01 L424.69,556.81 L425.94,556.78 L427.13,556.92 L428.27,557.24 L429.36,557.72 L430.40,558.34 L431.39,559.09 L432.35,559.97 L433.26,560.95 L434.14,562.03 L434.99,563.20 L435.81,564.43 L436.61,565.73 L437.38,567.07 L438.13,568.45 L438.87,569.86 L439.59,571.27 L440.30,572.69 L441.00,574.11 L441.70,575.53 L442.38,576.95 L443.05,578.37 L443.72,579.79 L444.37,581.21 L445.01,582.63 L445.65,584.06 L446.28,585.48 L446.90,586.91 L447.51,588.33 L448.11,589.76 L448.70,591.18 L449.28,592.61 L449.86,594.04 L450.43,595.46 L450.99,596.89 L451.55,598.32 L452.09,599.75 L452.63,601.18 L453.16,602.61 L453.69,604.04 L454.21,605.47 L454.72,606.90 L455.23,608.34 L455.73,609.77 L456.22,611.20 L456.71,612.64 L457.19,614.07 L457.66,615.50 L458.13,616.94 L458.60,618.37 L459.06,619.81 L459.51,621.24 L459.96,622.68 L460.41,624.12 L460.85,625.55 L461.28,626.99 L461.71,628.43 L462.14,629.86 L462.56,631.30 L462.98,632.74 L463.40,634.18 L463.81,635.62 L464.22,637.06 L464.62,638.50 L465.03,639.93 L465.43,641.37 L465.82,642.81 L466.22,644.25 L466.61,645.69 L467.00,647.13 L467.38,648.57 L467.77,650.01 L468.15,651.45 L468.53,652.89 L468.91,654.34 L469.29,655.78 L469.67,657.22 L470.04,658.66 L470.42,660.10 L470.79,661.54 L471.17,662.98 L471.54,664.42 L471.91,665.86 L472.28,667.30 L472.66,668.74 L473.03,670.19 L473.40,671.63 L473.77,673.07 L474.15,674.51 L474.52,675.95 L474.90,677.39 L475.27,678.83 L475.65,680.27 L476.03,681.71 L476.41,683.15 L476.79,684.59 L477.18,686.03 L477.56,687.47 L477.95,688.91 L478.34,690.35 L478.73,691.79 L479.12,693.23 L479.51,694.67 L479.90,696.11 L480.30,697.55 L480.70,698.98 L481.10,700.42 L481.50,701.86 L481.90,703.30 L482.31,704.74 L482.72,706.17 L483.12,707.61 L483.53,709.05 L483.95,710.48 L484.36,711.92 L484.78,713.35 L485.19,714.79 L485.61,716.23 L486.03,717.66 L486.46,719.09 L486.88,720.53 L487.31,721.96 L487.74,723.40 L488.17,724.83 L488.60,726.26 L489.04,727.69 L489.47,729.13 L489.91,730.56 L490.35,731.99 L490.79,733.42 L491.24,734.85 L491.68,736.28 L492.13,737.71 L492.58,739.14 L493.04,740.57 L493.49,742.00 L493.95,743.42 L494.41,744.85 L494.87,746.28 L495.33,747.71 L495.80,749.13 L496.27,750.56 L496.74,751.98 L497.21,753.41 L497.68,754.83 L498.16,756.25 L498.64,757.68 L499.12,759.10 L499.60,760.52 L500.09,761.94 L500.58,763.36 L501.07,764.78 L501.56,766.20 L502.06,767.62 L502.55,769.04 L503.05,770.45 L503.56,771.87 L504.06,773.29 L504.57,774.70 L505.08,776.12 L505.59,777.53 L506.10,778.95 L506.62,780.36 L507.14,781.77 L507.66,783.18 L508.18,784.59 L508.71,786.00 L509.24,787.41 L509.77,788.82 L510.31,790.23 L510.84,791.64 L511.38,793.04 L511.93,794.45 L512.47,795.85 L513.02,797.26 L513.57,798.66 L514.12,800.06 L514.68,801.46 L515.24,802.86 L515.80,804.26 L516.36,805.66 L516.93,807.06 L517.51,808.45 L518.08,809.84 L518.66,811.24 L519.24,812.63 L519.83,814.01 L520.42,815.40 L521.01,816.79 L521.61,818.17 L522.21,819.55 L522.81,820.93 L523.42,822.30 L524.04,823.68 L524.65,825.05 L525.28,826.42 L525.90,827.79 L526.53,829.15 L527.17,830.51 L527.81,831.87 L528.45,833.23 L529.10,834.58 L529.75,835.94 L530.41,837.28 L531.07,838.63 L531.74,839.97 L532.42,841.31 L533.10,842.65 L533.78,843.98 L534.47,845.31 L535.16,846.63 L535.86,847.96 L536.57,849.27 L537.28,850.59 L538.00,851.90 L538.72,853.21 L539.45,854.51 L540.18,855.81 L540.92,857.11 L541.67,858.40 L542.42,859.69 L543.18,860.97 L543.95,862.25 L544.72,863.53 L545.49,864.80 L546.28,866.06 L547.07,867.32 L547.87,868.58 L548.67,869.83 L549.48,871.08 L550.30,872.32 L551.13,873.56 L551.96,874.79 L552.80,876.02 L553.64,877.24 L554.50,878.46 L555.36,879.67 L556.22,880.88 L557.10,882.08 L557.98,883.28 L558.87,884.47 L559.77,885.65 L560.68,886.83 L561.59,888.00 L562.51,889.17 L563.44,890.33 L564.38,891.49 L565.33,892.64 L566.28,893.78 L567.24,894.92 L568.21,896.05 L569.19,897.17 L570.18,898.29 L571.18,899.40 L572.18,900.51 L573.19,901.61 L574.21,902.70 L575.24,903.78 L576.28,904.86 L577.33,905.93 L578.38,907.00 L579.44,908.05 L580.51,909.11 L581.58,910.15 L582.67,911.19 L583.76,912.22 L584.86,913.24 L585.97,914.25 L587.08,915.26 L588.20,916.26 L589.33,917.25 L590.46,918.24 L591.61,919.22 L592.76,920.19 L593.91,921.15 L595.08,922.10 L596.24,923.05 L597.42,923.99 L598.60,924.92 L599.79,925.84 L600.99,926.76 L602.19,927.66 L603.40,928.56 L604.61,929.45 L605.83,930.33 L607.06,931.21 L608.29,932.07 L609.53,932.93 L610.77,933.78 L612.02,934.62 L613.28,935.45 L614.54,936.27 L615.81,937.08 L617.08,937.89 L618.36,938.68 L619.64,939.47 L620.93,940.25 L622.22,941.02 L623.52,941.78 L624.82,942.53 L626.13,943.27 L627.44,944.00 L628.75,944.72 L630.08,945.44 L631.40,946.14 L632.73,946.84 L634.07,947.52 L635.41,948.20 L636.75,948.86 L638.10,949.52 L639.45,950.16 L640.81,950.80 L642.16,951.42 L643.53,952.04 L644.90,952.65 L646.27,953.24 L647.64,953.83 L649.02,954.40 L650.40,954.97 L651.79,955.52 L653.17,956.07 L654.57,956.60 L655.96,957.12 L657.36,957.64 L658.76,958.14 L660.16,958.63 L661.57,959.11 L662.98,959.58 L664.39,960.04 L665.81,960.49 L667.22,960.93 L668.64,961.35 L670.07,961.77" fill="none" stroke="#ff0000" stroke-width="4.7" stroke-linecap="round" stroke-dasharray="0 6.9"/>
</g>
<rect x="143.7" y="4.6" width="524.3" height="432.4" fill="none" stroke="#000" stroke-width="4.2" stroke-linejoin="round"/>
<line x1="274.75" y1="436.0" x2="274.75" y2="422.7" stroke="#000" stroke-width="4.4" stroke-linecap="round"/>
<line x1="405.70" y1="436.0" x2="405.70" y2="422.7" stroke="#000" stroke-width="4.4" stroke-linecap="round"/>
<line x1="536.65" y1="436.0" x2="536.65" y2="422.7" stroke="#000" stroke-width="4.4" stroke-linecap="round"/>
<line x1="209.28" y1="436.0" x2="209.28" y2="429.4" stroke="#000" stroke-width="4.4" stroke-linecap="round"/>
<line x1="340.23" y1="436.0" x2="340.23" y2="429.4" stroke="#000" stroke-width="4.4" stroke-linecap="round"/>
<line x1="471.18" y1="436.0" x2="471.18" y2="429.4" stroke="#000" stroke-width="4.4" stroke-linecap="round"/>
<line x1="602.12" y1="436.0" x2="602.12" y2="429.4" stroke="#000" stroke-width="4.4" stroke-linecap="round"/>
<line x1="144.7" y1="25.20" x2="157.89999999999998" y2="25.20" stroke="#000" stroke-width="4.4" stroke-linecap="round"/>
<line x1="144.7" y1="127.00" x2="157.89999999999998" y2="127.00" stroke="#000" stroke-width="4.4" stroke-linecap="round"/>
<line x1="144.7" y1="228.80" x2="157.89999999999998" y2="228.80" stroke="#000" stroke-width="4.4" stroke-linecap="round"/>
<line x1="144.7" y1="330.60" x2="157.89999999999998" y2="330.60" stroke="#000" stroke-width="4.4" stroke-linecap="round"/>
<line x1="144.7" y1="432.40" x2="157.89999999999998" y2="432.40" stroke="#000" stroke-width="4.4" stroke-linecap="round"/>
<line x1="144.7" y1="76.10" x2="151.0" y2="76.10" stroke="#000" stroke-width="4.4" stroke-linecap="round"/>
<line x1="144.7" y1="177.90" x2="151.0" y2="177.90" stroke="#000" stroke-width="4.4" stroke-linecap="round"/>
<line x1="144.7" y1="279.70" x2="151.0" y2="279.70" stroke="#000" stroke-width="4.4" stroke-linecap="round"/>
<line x1="144.7" y1="381.50" x2="151.0" y2="381.50" stroke="#000" stroke-width="4.4" stroke-linecap="round"/>
<rect x="143.3" y="533.7" width="524.0999999999999" height="431.79999999999995" fill="none" stroke="#000" stroke-width="4.2" stroke-linejoin="round"/>
<line x1="191.04" y1="964.5" x2="191.04" y2="951.2" stroke="#000" stroke-width="4.4" stroke-linecap="round"/>
<line x1="333.95" y1="964.5" x2="333.95" y2="951.2" stroke="#000" stroke-width="4.4" stroke-linecap="round"/>
<line x1="476.85" y1="964.5" x2="476.85" y2="951.2" stroke="#000" stroke-width="4.4" stroke-linecap="round"/>
<line x1="619.76" y1="964.5" x2="619.76" y2="951.2" stroke="#000" stroke-width="4.4" stroke-linecap="round"/>
<line x1="262.49" y1="964.5" x2="262.49" y2="957.9" stroke="#000" stroke-width="4.4" stroke-linecap="round"/>
<line x1="405.40" y1="964.5" x2="405.40" y2="957.9" stroke="#000" stroke-width="4.4" stroke-linecap="round"/>
<line x1="548.31" y1="964.5" x2="548.31" y2="957.9" stroke="#000" stroke-width="4.4" stroke-linecap="round"/>
<line x1="144.3" y1="554.00" x2="157.5" y2="554.00" stroke="#000" stroke-width="4.4" stroke-linecap="round"/>
<line x1="144.3" y1="644.80" x2="157.5" y2="644.80" stroke="#000" stroke-width="4.4" stroke-linecap="round"/>
<line x1="144.3" y1="735.60" x2="157.5" y2="735.60" stroke="#000" stroke-width="4.4" stroke-linecap="round"/>
<line x1="144.3" y1="826.40" x2="157.5" y2="826.40" stroke="#000" stroke-width="4.4" stroke-linecap="round"/>
<line x1="144.3" y1="917.20" x2="157.5" y2="917.20" stroke="#000" stroke-width="4.4" stroke-linecap="round"/>
<line x1="144.3" y1="599.40" x2="150.60000000000002" y2="599.40" stroke="#000" stroke-width="4.4" stroke-linecap="round"/>
<line x1="144.3" y1="690.20" x2="150.60000000000002" y2="690.20" stroke="#000" stroke-width="4.4" stroke-linecap="round"/>
<line x1="144.3" y1="781.00" x2="150.60000000000002" y2="781.00" stroke="#000" stroke-width="4.4" stroke-linecap="round"/>
<line x1="144.3" y1="871.80" x2="150.60000000000002" y2="871.80" stroke="#000" stroke-width="4.4" stroke-linecap="round"/>
<line x1="144.3" y1="962.60" x2="150.60000000000002" y2="962.60" stroke="#000" stroke-width="4.4" stroke-linecap="round"/>
<g transform="translate(67.03,38.80) scale(1.0,1.065)"><text y="0" font-size="43.5"><tspan x="0.00" visibility="hidden">1</tspan><tspan x="24.19">.</tspan><tspan x="36.28">0</tspan></text></g><path class="g1" transform="translate(67.03,38.80) scale(0.02124,-0.02156)" d="M745,0 L565,0 L565,1147 Q500,1087 394,1027 Q288,967 200,943 L200,1117 Q355,1185 468,1282 Q581,1380 628,1472 L745,1472 Z" vector-effect="non-scaling-stroke"/>
<g transform="translate(66.53,567.60) scale(1.0,1.065)"><text y="0" font-size="43.5"><tspan x="0.00" visibility="hidden">1</tspan><tspan x="24.19">.</tspan><tspan x="36.28">0</tspan></text></g><path class="g1" transform="translate(66.53,567.60) scale(0.02124,-0.02156)" d="M745,0 L565,0 L565,1147 Q500,1087 394,1027 Q288,967 200,943 L200,1117 Q355,1185 468,1282 Q581,1380 628,1472 L745,1472 Z" vector-effect="non-scaling-stroke"/>
<g transform="translate(67.03,140.60) scale(1.0,1.065)"><text y="0" font-size="43.5"><tspan x="0.00">0</tspan><tspan x="24.19">.</tspan><tspan x="36.28">8</tspan></text></g>
<g transform="translate(66.53,658.40) scale(1.0,1.065)"><text y="0" font-size="43.5"><tspan x="0.00">0</tspan><tspan x="24.19">.</tspan><tspan x="36.28">8</tspan></text></g>
<g transform="translate(67.03,242.40) scale(1.0,1.065)"><text y="0" font-size="43.5"><tspan x="0.00">0</tspan><tspan x="24.19">.</tspan><tspan x="36.28">6</tspan></text></g>
<g transform="translate(66.53,749.20) scale(1.0,1.065)"><text y="0" font-size="43.5"><tspan x="0.00">0</tspan><tspan x="24.19">.</tspan><tspan x="36.28">6</tspan></text></g>
<g transform="translate(67.03,344.20) scale(1.0,1.065)"><text y="0" font-size="43.5"><tspan x="0.00">0</tspan><tspan x="24.19">.</tspan><tspan x="36.28">4</tspan></text></g>
<g transform="translate(66.53,840.00) scale(1.0,1.065)"><text y="0" font-size="43.5"><tspan x="0.00">0</tspan><tspan x="24.19">.</tspan><tspan x="36.28">4</tspan></text></g>
<g transform="translate(67.03,446.00) scale(1.0,1.065)"><text y="0" font-size="43.5"><tspan x="0.00">0</tspan><tspan x="24.19">.</tspan><tspan x="36.28">2</tspan></text></g>
<g transform="translate(66.53,930.80) scale(1.0,1.065)"><text y="0" font-size="43.5"><tspan x="0.00">0</tspan><tspan x="24.19">.</tspan><tspan x="36.28">2</tspan></text></g>
<g transform="translate(107.21,486.60) scale(1.0,1.065)"><text y="0" font-size="43.5"><tspan x="0.00">9</tspan><tspan x="24.19">9</tspan><tspan x="48.39">0</tspan></text></g>
<g transform="translate(226.06,486.60) scale(1.0,1.065)"><text y="0" font-size="43.5"><tspan x="0.00" visibility="hidden">1</tspan><tspan x="24.19">0</tspan><tspan x="48.39">2</tspan><tspan x="72.58">0</tspan></text></g><path class="g1" transform="translate(226.06,486.60) scale(0.02124,-0.02156)" d="M745,0 L565,0 L565,1147 Q500,1087 394,1027 Q288,967 200,943 L200,1117 Q355,1185 468,1282 Q581,1380 628,1472 L745,1472 Z" vector-effect="non-scaling-stroke"/>
<g transform="translate(357.01,486.60) scale(1.0,1.065)"><text y="0" font-size="43.5"><tspan x="0.00" visibility="hidden">1</tspan><tspan x="24.19">0</tspan><tspan x="48.39">5</tspan><tspan x="72.58">0</tspan></text></g><path class="g1" transform="translate(357.01,486.60) scale(0.02124,-0.02156)" d="M745,0 L565,0 L565,1147 Q500,1087 394,1027 Q288,967 200,943 L200,1117 Q355,1185 468,1282 Q581,1380 628,1472 L745,1472 Z" vector-effect="non-scaling-stroke"/>
<g transform="translate(487.96,486.60) scale(1.0,1.065)"><text y="0" font-size="43.5"><tspan x="0.00" visibility="hidden">1</tspan><tspan x="24.19">0</tspan><tspan x="48.39">8</tspan><tspan x="72.58">0</tspan></text></g><path class="g1" transform="translate(487.96,486.60) scale(0.02124,-0.02156)" d="M745,0 L565,0 L565,1147 Q500,1087 394,1027 Q288,967 200,943 L200,1117 Q355,1185 468,1282 Q581,1380 628,1472 L745,1472 Z" vector-effect="non-scaling-stroke"/>
<g transform="translate(618.91,486.60) scale(1.0,1.065)"><text y="0" font-size="43.5"><tspan x="0.00" visibility="hidden">1</tspan><tspan x="24.19" visibility="hidden">1</tspan><tspan x="48.39" visibility="hidden">1</tspan><tspan x="72.58">0</tspan></text></g><path class="g1" transform="translate(618.91,486.60) scale(0.02124,-0.02156)" d="M745,0 L565,0 L565,1147 Q500,1087 394,1027 Q288,967 200,943 L200,1117 Q355,1185 468,1282 Q581,1380 628,1472 L745,1472 Z" vector-effect="non-scaling-stroke"/><path class="g1" transform="translate(643.11,486.60) scale(0.02124,-0.02156)" d="M745,0 L565,0 L565,1147 Q500,1087 394,1027 Q288,967 200,943 L200,1117 Q355,1185 468,1282 Q581,1380 628,1472 L745,1472 Z" vector-effect="non-scaling-stroke"/><path class="g1" transform="translate(667.30,486.60) scale(0.02124,-0.02156)" d="M745,0 L565,0 L565,1147 Q500,1087 394,1027 Q288,967 200,943 L200,1117 Q355,1185 468,1282 Q581,1380 628,1472 L745,1472 Z" vector-effect="non-scaling-stroke"/>
<g transform="translate(142.35,1015.10) scale(1.0,1.065)"><text y="0" font-size="43.5"><tspan x="0.00" visibility="hidden">1</tspan><tspan x="24.19">0</tspan><tspan x="48.39">8</tspan><tspan x="72.58">0</tspan></text></g><path class="g1" transform="translate(142.35,1015.10) scale(0.02124,-0.02156)" d="M745,0 L565,0 L565,1147 Q500,1087 394,1027 Q288,967 200,943 L200,1117 Q355,1185 468,1282 Q581,1380 628,1472 L745,1472 Z" vector-effect="non-scaling-stroke"/>
<g transform="translate(285.26,1015.10) scale(1.0,1.065)"><text y="0" font-size="43.5"><tspan x="0.00" visibility="hidden">1</tspan><tspan x="24.19" visibility="hidden">1</tspan><tspan x="48.39" visibility="hidden">1</tspan><tspan x="72.58">0</tspan></text></g><path class="g1" transform="translate(285.26,1015.10) scale(0.02124,-0.02156)" d="M745,0 L565,0 L565,1147 Q500,1087 394,1027 Q288,967 200,943 L200,1117 Q355,1185 468,1282 Q581,1380 628,1472 L745,1472 Z" vector-effect="non-scaling-stroke"/><path class="g1" transform="translate(309.45,1015.10) scale(0.02124,-0.02156)" d="M745,0 L565,0 L565,1147 Q500,1087 394,1027 Q288,967 200,943 L200,1117 Q355,1185 468,1282 Q581,1380 628,1472 L745,1472 Z" vector-effect="non-scaling-stroke"/><path class="g1" transform="translate(333.65,1015.10) scale(0.02124,-0.02156)" d="M745,0 L565,0 L565,1147 Q500,1087 394,1027 Q288,967 200,943 L200,1117 Q355,1185 468,1282 Q581,1380 628,1472 L745,1472 Z" vector-effect="non-scaling-stroke"/>
<g transform="translate(428.17,1015.10) scale(1.0,1.065)"><text y="0" font-size="43.5"><tspan x="0.00" visibility="hidden">1</tspan><tspan x="24.19" visibility="hidden">1</tspan><tspan x="48.39">4</tspan><tspan x="72.58">0</tspan></text></g><path class="g1" transform="translate(428.17,1015.10) scale(0.02124,-0.02156)" d="M745,0 L565,0 L565,1147 Q500,1087 394,1027 Q288,967 200,943 L200,1117 Q355,1185 468,1282 Q581,1380 628,1472 L745,1472 Z" vector-effect="non-scaling-stroke"/><path class="g1" transform="translate(452.36,1015.10) scale(0.02124,-0.02156)" d="M745,0 L565,0 L565,1147 Q500,1087 394,1027 Q288,967 200,943 L200,1117 Q355,1185 468,1282 Q581,1380 628,1472 L745,1472 Z" vector-effect="non-scaling-stroke"/>
<g transform="translate(571.08,1015.10) scale(1.0,1.065)"><text y="0" font-size="43.5"><tspan x="0.00" visibility="hidden">1</tspan><tspan x="24.19" visibility="hidden">1</tspan><tspan x="48.39">7</tspan><tspan x="72.58">0</tspan></text></g><path class="g1" transform="translate(571.08,1015.10) scale(0.02124,-0.02156)" d="M745,0 L565,0 L565,1147 Q500,1087 394,1027 Q288,967 200,943 L200,1117 Q355,1185 468,1282 Q581,1380 628,1472 L745,1472 Z" vector-effect="non-scaling-stroke"/><path class="g1" transform="translate(595.27,1015.10) scale(0.02124,-0.02156)" d="M745,0 L565,0 L565,1147 Q500,1087 394,1027 Q288,967 200,943 L200,1117 Q355,1185 468,1282 Q581,1380 628,1472 L745,1472 Z" vector-effect="non-scaling-stroke"/>
<text x="0" y="0" font-size="44" text-anchor="middle" transform="translate(34.9,225.0) rotate(-90)">Intensity</text>
<text x="0" y="0" font-size="44" text-anchor="middle" transform="translate(39.6,753.9) rotate(-90)">Intensity</text>
<g transform="translate(224.71,1085.30) scale(1.0,1.02)"><text y="0" font-size="45.1"><tspan x="0.00">W</tspan><tspan x="42.57">a</tspan><tspan x="67.65">v</tspan><tspan x="90.20">e</tspan><tspan x="115.28">l</tspan><tspan x="125.30">e</tspan><tspan x="150.38">n</tspan><tspan x="175.47">g</tspan><tspan x="200.55">t</tspan><tspan x="213.08">h</tspan><tspan x="238.16"> </tspan><tspan x="250.69">(</tspan><tspan x="265.71">n</tspan><tspan x="290.79">m</tspan><tspan x="328.36">)</tspan></text></g>
<g transform="translate(177.87,51.00) scale(1.03,1.0)"><text y="0" font-size="48.5"><tspan x="0.00">(</tspan><tspan x="16.15">a</tspan><tspan x="43.12">)</tspan></text></g>
<g transform="translate(182.38,582.60) scale(1.04,1.0)"><text y="0" font-size="48.5"><tspan x="0.00">(</tspan><tspan x="16.15">b</tspan><tspan x="43.12">)</tspan></text></g>
<g transform="translate(498.30,51.20) scale(1.0,1.0)"><text y="0" font-size="34.2"><tspan x="0.00">H</tspan><tspan x="24.70">=</tspan><tspan x="44.67">3</tspan><tspan x="63.69">0</tspan><tspan x="82.71"> </tspan><tspan x="92.21">n</tspan><tspan x="111.23">m</tspan></text></g>
<g transform="translate(471.20,586.00) scale(1.0,1.0)"><text y="0" font-size="34.2"><tspan x="0.00">H</tspan><tspan x="24.70">=</tspan><tspan x="44.67">2</tspan><tspan x="63.69">0</tspan><tspan x="82.71"> </tspan><tspan x="92.21">n</tspan><tspan x="111.23">m</tspan></text></g>
<line x1="311" y1="320.5" x2="376" y2="320.5" stroke="#000" stroke-width="4.4" stroke-linecap="round"/>
<line x1="310.9" y1="360.6" x2="373" y2="360.6" stroke="#ff0000" stroke-width="4.7" stroke-linecap="round" stroke-dasharray="0 6.84"/>
<g transform="translate(384.40,330.00) scale(1.0,1.0)"><text y="0" font-size="32.0"><tspan x="0.00">n</tspan><tspan x="17.80">=</tspan><tspan x="36.48" visibility="hidden">1</tspan><tspan x="54.28">.</tspan><tspan x="63.17">3</tspan><tspan x="80.97">3</tspan></text></g><path class="g1" transform="translate(420.88,330.00) scale(0.01562,-0.01562)" d="M745,0 L565,0 L565,1147 Q500,1087 394,1027 Q288,967 200,943 L200,1117 Q355,1185 468,1282 Q581,1380 628,1472 L745,1472 Z" vector-effect="non-scaling-stroke"/>
<g transform="translate(384.40,370.50) scale(1.0,1.0)"><text y="0" font-size="32.0"><tspan x="0.00">n</tspan><tspan x="17.80">=</tspan><tspan x="36.48" visibility="hidden">1</tspan><tspan x="54.28">.</tspan><tspan x="63.17">5</tspan></text></g><path class="g1" transform="translate(420.88,370.50) scale(0.01562,-0.01562)" d="M745,0 L565,0 L565,1147 Q500,1087 394,1027 Q288,967 200,943 L200,1117 Q355,1185 468,1282 Q581,1380 628,1472 L745,1472 Z" vector-effect="non-scaling-stroke"/>
</svg>
</body></html>
